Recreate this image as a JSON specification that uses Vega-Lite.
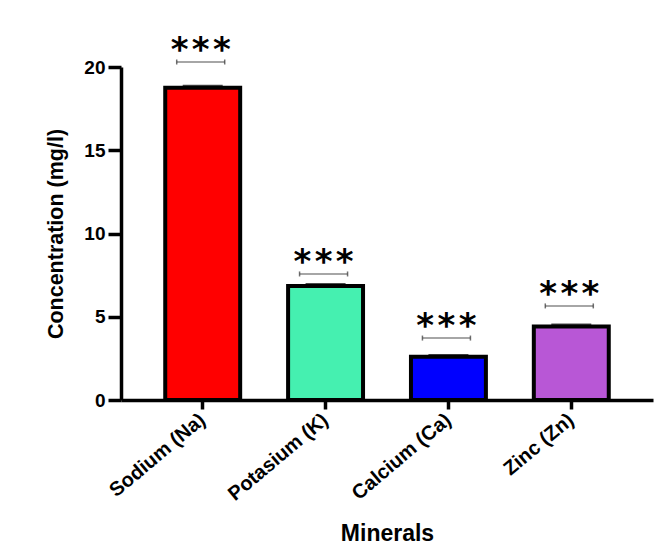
{
  "$schema": "https://vega.github.io/schema/vega-lite/v6.json",
  "autosize": "none",
  "width": 532,
  "height": 333,
  "padding": {"left": 121, "top": 67, "right": 11, "bottom": 158},
  "background": "white",
  "config": {
    "view": {"stroke": null},
    "font": "Liberation Sans",
    "axis": {
      "labelFont": "Liberation Sans",
      "titleFont": "Liberation Sans",
      "labelFontWeight": "bold",
      "titleFontWeight": "bold",
      "labelColor": "black",
      "titleColor": "black",
      "domainColor": "black",
      "tickColor": "black",
      "domainWidth": 3.5,
      "tickWidth": 3.5,
      "grid": false
    }
  },
  "data": {
    "values": [
      {"mineral": "Sodium (Na)", "conc": 18.75, "upper": 18.85, "sig": 20.3, "stars": "*\u200a*\u200a*"},
      {"mineral": "Potasium (K)", "conc": 6.85, "upper": 6.93, "sig": 7.57, "stars": "*\u200a*\u200a*"},
      {"mineral": "Calcium (Ca)", "conc": 2.6, "upper": 2.68, "sig": 3.72, "stars": "*\u200a*\u200a*"},
      {"mineral": "Zinc (Zn)", "conc": 4.42, "upper": 4.5, "sig": 5.65, "stars": "*\u200a*\u200a*"}
    ]
  },
  "encoding": {
    "x": {
      "field": "mineral",
      "type": "nominal",
      "sort": null,
      "scale": {"paddingInner": 0.39, "paddingOuter": 0.36},
      "axis": {
        "title": "Minerals",
        "titleFontSize": 23,
        "titleY": 140,
        "titleBaseline": "alphabetic",
        "labelAngle": -40,
        "labelFontSize": 20,
        "labelAlign": "right",
        "labelBaseline": "middle",
        "labelPadding": 8,
        "tickSize": 9
      }
    }
  },
  "layer": [
    {
      "mark": {"type": "bar", "stroke": "black", "strokeWidth": 4},
      "encoding": {
        "y": {
          "field": "conc",
          "type": "quantitative",
          "scale": {"domain": [0, 20], "nice": false},
          "axis": {
            "title": "Concentration (mg/l)",
            "titleFontSize": 21.5,
            "titlePadding": 16,
            "labelFontSize": 19,
            "labelPadding": 3,
            "values": [0, 5, 10, 15, 20],
            "tickSize": 13
          }
        },
        "color": {
          "field": "mineral",
          "type": "nominal",
          "sort": null,
          "legend": null,
          "scale": {
            "domain": ["Sodium (Na)", "Potasium (K)", "Calcium (Ca)", "Zinc (Zn)"],
            "range": ["#FF0000", "#45F0B0", "#0000FF", "#B857D6"]
          }
        }
      }
    },
    {
      "mark": {"type": "tick", "color": "black", "thickness": 3, "size": 40},
      "encoding": {"y": {"field": "upper", "type": "quantitative"}}
    },
    {
      "mark": {"type": "tick", "color": "#555555", "thickness": 1.5, "size": 48, "xOffset": -2},
      "encoding": {"y": {"field": "sig", "type": "quantitative"}}
    },
    {
      "mark": {"type": "tick", "orient": "vertical", "color": "#333333", "thickness": 1.5, "size": 5, "xOffset": -26},
      "encoding": {"y": {"field": "sig", "type": "quantitative"}}
    },
    {
      "mark": {"type": "tick", "orient": "vertical", "color": "#333333", "thickness": 1.5, "size": 5, "xOffset": 22},
      "encoding": {"y": {"field": "sig", "type": "quantitative"}}
    },
    {
      "mark": {"type": "text", "font": "DejaVu Sans", "fontSize": 34, "fontWeight": "bold", "baseline": "alphabetic", "dy": -1, "dx": -2, "color": "black"},
      "encoding": {
        "y": {"field": "sig", "type": "quantitative"},
        "text": {"field": "stars"}
      }
    }
  ]
}
